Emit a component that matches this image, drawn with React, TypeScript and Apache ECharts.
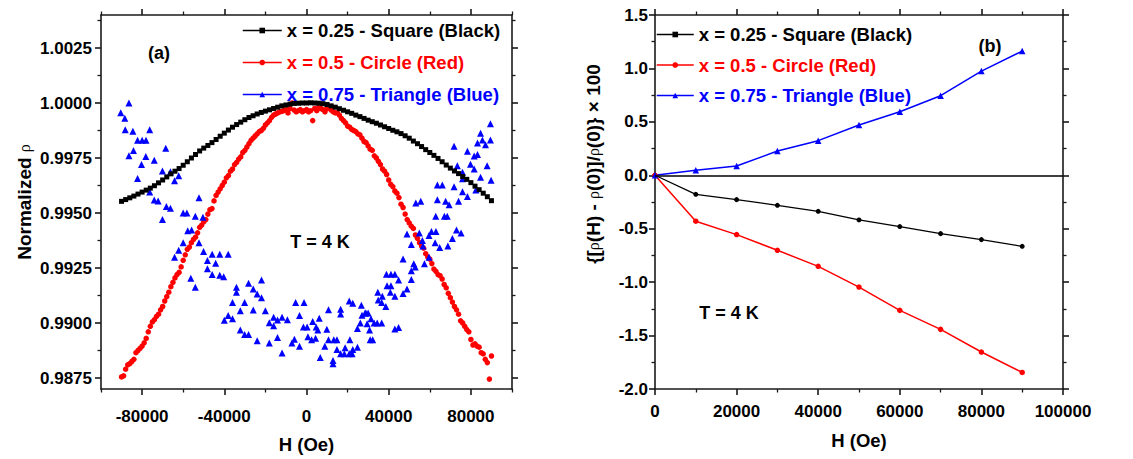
import React, { useEffect, useRef } from "react";
import * as echarts from "echarts";

const FONT = "'Liberation Sans', Arial, Helvetica, sans-serif";
const BLACK = "#000000";
const RED = "#ff0000";
const BLUE = "#0000ff";

const seriesNames = [
  "x = 0.25 - Square (Black)",
  "x = 0.5 - Circle (Red)",
  "x = 0.75 - Triangle (Blue)",
];

// ---------- Panel (a) ----------
const xTicksA = [-80000, -40000, 0, 40000, 80000];
const xMinorTicksA = [-100000, -60000, -20000, 20000, 60000, 100000];
const yTicksA = [0.9875, 0.99, 0.9925, 0.995, 0.9975, 1.0, 1.0025];
const yMinorTicksA = [0.98875, 0.99125, 0.99375, 0.99625, 0.99875, 1.00125, 1.00375];

const blackAField = [
  -90000, -88000, -86000, -84000, -82000, -80000, -78000, -76000, -74000, -72000,
  -70000, -68000, -66000, -64000, -62000, -60000, -58000, -56000, -54000, -52000,
  -50000, -48000, -46000, -44000, -42000, -40000, -38000, -36000, -34000, -32000,
  -30000, -28000, -26000, -24000, -22000, -20000, -18000, -16000, -14000, -12000,
  -10000, -8000, -6000, -4000, -2000, 0, 2000, 4000, 6000, 8000,
  10000, 12000, 14000, 16000, 18000, 20000, 22000, 24000, 26000, 28000,
  30000, 32000, 34000, 36000, 38000, 40000, 42000, 44000, 46000, 48000,
  50000, 52000, 54000, 56000, 58000, 60000, 62000, 64000, 66000, 68000,
  70000, 72000, 74000, 76000, 78000, 80000, 82000, 84000, 86000, 88000, 90000,
];
const blackAValues = [
  0.99553, 0.99561, 0.99569, 0.99577, 0.99586, 0.99595, 0.99604, 0.99613, 0.99624, 0.99637,
  0.9965, 0.99664, 0.99678, 0.9969, 0.99702, 0.99717, 0.99733, 0.9975, 0.99766, 0.99782,
  0.99795, 0.99807, 0.9982, 0.99834, 0.99849, 0.99863, 0.99877, 0.9989, 0.99902, 0.99913,
  0.99924, 0.99934, 0.99942, 0.9995, 0.99957, 0.99963, 0.99969, 0.99975, 0.99981, 0.99987,
  0.99991, 0.99995, 0.99998, 0.99999, 1.0, 1.0, 1.00001, 1.0, 0.99999, 0.99997,
  0.99993, 0.99987, 0.99981, 0.99974, 0.99967, 0.9996, 0.99953, 0.99945, 0.99938, 0.9993,
  0.99922, 0.99915, 0.99908, 0.999, 0.99892, 0.99884, 0.99876, 0.99869, 0.99861, 0.99851,
  0.9984, 0.99827, 0.99815, 0.99802, 0.99788, 0.99775, 0.99762, 0.99748, 0.99733, 0.99718,
  0.99704, 0.99691, 0.99679, 0.99666, 0.99653, 0.99638, 0.99622, 0.99606, 0.9959, 0.99574, 0.99556,
];

// red: two field sweeps
const redSweep1Field = blackAField;
const redSweep1Values = [
  0.98755, 0.9879, 0.98815, 0.98835, 0.98875, 0.98895, 0.9893, 0.98985, 0.99015, 0.9904,
  0.99075, 0.9912, 0.99165, 0.99205, 0.9923, 0.99285, 0.99335, 0.99365, 0.9939, 0.99435,
  0.9946, 0.99495, 0.9952, 0.9958, 0.9961, 0.9964, 0.9967, 0.997, 0.9973, 0.99755,
  0.99785, 0.99815, 0.9984, 0.9986, 0.99875, 0.999, 0.9992, 0.99945, 0.99955, 0.99962,
  0.9997, 0.99975, 0.99968, 0.99965, 0.9996, 0.9997, 0.99965, 0.99975, 0.9998, 0.9997,
  0.99975, 0.99968, 0.99955, 0.99945, 0.9992, 0.99895, 0.9988, 0.9987, 0.99855, 0.99825,
  0.99805, 0.99785, 0.9975, 0.9972, 0.9969, 0.9965, 0.9962, 0.9959, 0.9954, 0.99495,
  0.99455, 0.9943, 0.99385, 0.9935, 0.99315, 0.9929, 0.99245, 0.9922, 0.992, 0.9916,
  0.99115, 0.99075, 0.9904, 0.99, 0.9897, 0.98925, 0.98905, 0.9889, 0.9886, 0.9882, 0.9885,
];
const redSweep2Field = [
  -89000, -87000, -85000, -83000, -81000, -79000, -77000, -75000, -73000, -71000,
  -69000, -67000, -65000, -63000, -61000, -59000, -57000, -55000, -53000, -51000,
  -49000, -47000, -45000, -43000, -41000, -39000, -37000, -35000, -33000, -31000,
  -29000, -27000, -25000, -23000, -21000, -19000, -17000, -15000, -13000, -11000,
  -9000, -7000, -5000, -3000, -1000, 1000, 3000, 5000, 7000, 9000,
  11000, 13000, 15000, 17000, 19000, 21000, 23000, 25000, 27000, 29000,
  31000, 33000, 35000, 37000, 39000, 41000, 43000, 45000, 47000, 49000,
  51000, 53000, 55000, 57000, 59000, 61000, 63000, 65000, 67000, 69000,
  71000, 73000, 75000, 77000, 79000, 81000, 83000, 85000, 87000, 89000,
];
const redSweep2Values = [
  0.9876, 0.9881, 0.98825, 0.98865, 0.98885, 0.9891, 0.9896, 0.99005, 0.9903, 0.9906,
  0.991, 0.9914, 0.99185, 0.9922, 0.99255, 0.9931, 0.99345, 0.9938, 0.9941, 0.99445,
  0.9947, 0.99515, 0.99555, 0.99595, 0.99625, 0.9966, 0.9969, 0.9972, 0.99745, 0.99775,
  0.998, 0.9983, 0.9985, 0.9987, 0.99885, 0.9991, 0.99935, 0.9995, 0.9996, 0.99965,
  0.99955, 1.0, 0.9996, 0.9997, 0.99965, 0.9996, 0.9992, 0.99965, 0.99975, 0.9996,
  0.99978, 0.9996, 0.99955, 0.9993, 0.9991, 0.9989, 0.99875, 0.9986, 0.9984, 0.9982,
  0.9979, 0.9976, 0.99735, 0.997, 0.99675, 0.9963, 0.996, 0.9957, 0.99525, 0.9947,
  0.9944, 0.994, 0.99365, 0.9934, 0.993, 0.9927, 0.99235, 0.99215, 0.99175, 0.99135,
  0.99095, 0.9906, 0.9901, 0.98985, 0.9896, 0.989, 0.98895, 0.98865, 0.98835, 0.98745,
];

// blue: scattered [H, rho] pairs
const blueAPoints: [number, number][] = [
  [-86400, 1.0], [-90400, 0.99956], [-88400, 0.99931], [-88200, 0.99878], [-84500, 0.99872],
  [-76300, 0.99878], [-82200, 0.99831], [-80000, 0.99831], [-78100, 0.99831], [-86400, 0.9976],
  [-84200, 0.99784], [-78200, 0.99757], [-68500, 0.99794], [-80300, 0.99721], [-74100, 0.9974],
  [-82200, 0.99657], [-70100, 0.99691], [-66200, 0.99687], [-62200, 0.99669], [-64200, 0.99647],
  [-76300, 0.99596], [-74100, 0.99559], [-72200, 0.99555], [-68200, 0.99529], [-66200, 0.99522],
  [-60000, 0.995], [-58200, 0.995], [-54100, 0.99485], [-52300, 0.99569], [-50400, 0.99481],
  [-70100, 0.99471],
  [-57800, 0.99419], [-55900, 0.99423], [-60000, 0.99365], [-62200, 0.99331], [-64200, 0.99299],
  [-52300, 0.99365], [-50100, 0.99325], [-48200, 0.99284], [-45900, 0.99313], [-42200, 0.99313],
  [-38100, 0.99313], [-44200, 0.99272], [-48200, 0.99247], [-45900, 0.9922], [-42200, 0.99217],
  [-40300, 0.9921], [-56300, 0.99203], [-54100, 0.99163], [-34100, 0.99163], [-34100, 0.9914],
  [-28200, 0.99181], [-25900, 0.99154], [-21900, 0.99195], [-24000, 0.99132], [-21900, 0.99115],
  [-36000, 0.99093], [-30100, 0.99093], [-32200, 0.99056], [-25900, 0.99059], [-20000, 0.99056],
  [-40000, 0.99012], [-38100, 0.99034], [-36000, 0.99019], [-18100, 0.99001], [-16000, 0.99026],
  [-14100, 0.99014], [-11900, 0.99026], [-16000, 0.98987], [-32200, 0.98968], [-30100, 0.98948],
  [-28200, 0.98948], [-24000, 0.98919], [-18100, 0.98909], [-14100, 0.98934], [-11900, 0.98864],
  [-9300, 0.99015], [-7100, 0.98909], [-5900, 0.98926], [-3400, 0.98894], [-3400, 0.99034],
  [-5300, 0.99093], [-1200, 0.99093], [-1500, 0.98982], [300, 0.98982], [700, 0.98938],
  [2500, 0.98924], [3000, 0.99007], [4400, 0.98931], [4700, 0.98982], [5500, 0.98968],
  [6200, 0.99022], [6700, 0.98843], [8900, 0.98894], [9900, 0.98972], [10700, 0.9906],
  [10700, 0.98924], [12900, 0.98829], [12900, 0.98815], [13300, 0.98924], [14800, 0.98924],
  [14800, 0.9888], [16600, 0.9886], [16600, 0.99063], [16600, 0.99041], [18400, 0.9886],
  [18800, 0.98887], [20800, 0.9886], [20800, 0.991], [21100, 0.98924], [22200, 0.9886],
  [22500, 0.9888], [22500, 0.9909], [24800, 0.98975], [24800, 0.9889], [26200, 0.99],
  [26700, 0.99081], [27000, 0.99035], [28500, 0.99046], [28900, 0.99046], [29500, 0.98997],
  [30000, 0.99046], [30700, 0.98968], [31000, 0.98924], [31400, 0.99019], [32200, 0.98924],
  [32900, 0.99], [34400, 0.99], [34700, 0.9914], [34900, 0.99104], [36600, 0.99],
  [36600, 0.99093], [36900, 0.99122], [38600, 0.99075], [38900, 0.99222], [39200, 0.99169],
  [40800, 0.9914], [41100, 0.99222], [41100, 0.99169], [43000, 0.99222], [43000, 0.99122],
  [43000, 0.98973], [44800, 0.99195], [44800, 0.9898], [47000, 0.99291], [47000, 0.99134],
  [48900, 0.99404], [48900, 0.99154], [51000, 0.99357], [51000, 0.99237], [51000, 0.99198],
  [52200, 0.99269], [52900, 0.99254], [54900, 0.99409], [56400, 0.99375], [56700, 0.9935],
  [57400, 0.99269], [59600, 0.99398], [59600, 0.99299], [60800, 0.99416], [62600, 0.99365],
  [63000, 0.99416], [62900, 0.99485], [64800, 0.99343], [67100, 0.99485], [68500, 0.99485],
  [68800, 0.9935], [71000, 0.99384], [73000, 0.99423], [75200, 0.99409],
  [53200, 0.99546], [55600, 0.99553], [63700, 0.9956], [63700, 0.99627], [66100, 0.99627],
  [67700, 0.99553], [69400, 0.99538], [71800, 0.99803], [71800, 0.99619], [73400, 0.99715],
  [74000, 0.99553], [75900, 0.99656], [75900, 0.99685], [78300, 0.99781], [78300, 0.99575],
  [79800, 0.99722], [81600, 0.99759], [81600, 0.997], [83200, 0.99818], [83200, 0.99766],
  [84700, 0.99862], [85600, 0.99832], [87100, 0.9981], [87900, 0.99715], [89500, 0.99906],
  [89500, 0.99832], [89800, 0.99649], [84700, 0.99663], [82400, 0.99605], [75900, 0.99597],
];

// ---------- Panel (b) ----------
const fieldB = [0, 10000, 20000, 30000, 40000, 50000, 60000, 70000, 80000, 90000];
const blackB = [0, -0.178, -0.228, -0.281, -0.337, -0.418, -0.48, -0.546, -0.602, -0.665];
const redB = [0, -0.43, -0.555, -0.702, -0.852, -1.046, -1.264, -1.442, -1.654, -1.845];
const blueB = [0, 0.047, 0.087, 0.227, 0.324, 0.47, 0.595, 0.745, 0.975, 1.162];

const zip = (xs: number[], ys: number[]) => xs.map((x, i) => [x, ys[i]]);

const axisLineStyle = { color: "#1a1a1a", width: 1.6 };
const labelStyle = { fontFamily: FONT, fontWeight: "bold" as const, fontSize: 17, color: "#000" };
const nameStyle = {
  fontFamily: FONT,
  fontWeight: "bold" as const,
  fontSize: 18.5,
  color: "#000",
  rich: { r: { fontFamily: "'Liberation Serif', serif", fontWeight: "normal" as const, fontSize: 16, color: "#000" } },
};

function App() {
  const ref = useRef<HTMLDivElement>(null);
  useEffect(() => {
    if (!ref.current) return;
    const chart = echarts.init(ref.current, undefined, { renderer: "svg" });

    const majorTick = { show: true, inside: false, length: 6, lineStyle: { color: "#1a1a1a", width: 1.6 } };
    const minorTickStyle = { show: true, length: 3.5, lineStyle: { color: "#1a1a1a", width: 1.3 } };

    const xA = (position: "bottom" | "top", minor: boolean, withLabel: boolean) => ({
      type: "value",
      gridIndex: 0,
      position,
      min: -100000,
      max: 100000,
      axisLine: { show: !minor, onZero: false, lineStyle: axisLineStyle },
      axisTick: minor
        ? { ...minorTickStyle, customValues: xMinorTicksA }
        : { ...majorTick, customValues: xTicksA },
      axisLabel: withLabel
        ? { ...labelStyle, customValues: xTicksA, margin: 19, formatter: (v: number) => String(v) }
        : { show: false },
      splitLine: { show: false },
      ...(withLabel
        ? { name: "H (Oe)", nameLocation: "middle", nameGap: 46, nameTextStyle: nameStyle }
        : {}),
    });
    const yA = (position: "left" | "right", minor: boolean, withLabel: boolean) => ({
      type: "value",
      gridIndex: 0,
      position,
      min: 0.987,
      max: 1.004,
      axisLine: { show: !minor, onZero: false, lineStyle: axisLineStyle },
      axisTick: minor
        ? { ...minorTickStyle, customValues: yMinorTicksA }
        : { ...majorTick, customValues: yTicksA },
      axisLabel: withLabel
        ? { ...labelStyle, customValues: yTicksA, margin: 9, formatter: (v: number) => v.toFixed(4) }
        : { show: false },
      splitLine: { show: false },
      ...(withLabel
        ? { name: "Normalized {r|ρ}", nameLocation: "middle", nameGap: 67, nameTextStyle: { ...nameStyle, fontSize: 19 } }
        : {}),
    });

    const xB = (position: "bottom" | "top", withLabel: boolean) => ({
      type: "value",
      gridIndex: 1,
      position,
      min: 0,
      max: 100000,
      interval: 20000,
      axisLine: { show: true, onZero: false, lineStyle: axisLineStyle },
      axisTick: majorTick,
      minorTick: { ...minorTickStyle, splitNumber: 2 },
      axisLabel: withLabel
        ? { ...labelStyle, margin: 14, formatter: (v: number) => String(v) }
        : { show: false },
      splitLine: { show: false },
      minorSplitLine: { show: false },
      ...(withLabel
        ? { name: "H (Oe)", nameLocation: "middle", nameGap: 42, nameTextStyle: nameStyle }
        : {}),
    });
    const yB = (position: "left" | "right", withLabel: boolean) => ({
      type: "value",
      gridIndex: 1,
      position,
      min: -2,
      max: 1.5,
      interval: 0.5,
      axisLine: { show: true, onZero: false, lineStyle: axisLineStyle },
      axisTick: majorTick,
      minorTick: { ...minorTickStyle, splitNumber: 2 },
      axisLabel: withLabel
        ? { ...labelStyle, margin: 7, formatter: (v: number) => v.toFixed(1) }
        : { show: false },
      splitLine: { show: false },
      minorSplitLine: { show: false },
      ...(withLabel
        ? {
            name: "{[{r|ρ}(H) - {r|ρ}(0)]/{r|ρ}(0)} × 100",
            nameLocation: "middle",
            nameGap: 52,
            nameTextStyle: { ...nameStyle, fontSize: 19, padding: [0, 0, 0, 76] },
          }
        : {}),
    });

    const textStyleG = (text: string, x: number, y: number) => ({
      type: "text",
      x,
      y,
      silent: true,
      style: {
        text,
        fontFamily: FONT,
        fontWeight: "bold",
        fontSize: 18,
        fill: "#000",
        align: "center",
        verticalAlign: "middle",
      },
    });

    const legendBase = {
      orient: "vertical",
      itemWidth: 39,
      itemHeight: 7,
      padding: 0,
      selectedMode: false,
      textStyle: { fontFamily: FONT, fontWeight: "bold", fontSize: 18.5 },
      lineStyle: { width: 1.5, opacity: 1 },
      data: [
        { name: seriesNames[0], textStyle: { color: BLACK } },
        { name: seriesNames[1], textStyle: { color: RED } },
        { name: seriesNames[2], textStyle: { color: BLUE } },
      ],
    };

    const option: any = {
      animation: false,
      backgroundColor: "#ffffff",
      grid: [
        { left: 101, right: 1133 - 512, top: 15, bottom: 459 - 398, containLabel: false },
        { left: 655, right: 1133 - 1063, top: 15, bottom: 459 - 389, containLabel: false },
      ],
      xAxis: [
        xA("bottom", false, true),
        xA("bottom", true, false),
        xA("top", false, false),
        xA("top", true, false),
        xB("bottom", true),
        xB("top", false),
      ],
      yAxis: [
        yA("left", false, true),
        yA("left", true, false),
        yA("right", false, false),
        yA("right", true, false),
        yB("left", true),
        yB("right", false),
      ],
      legend: [
        { ...legendBase, left: 242, top: 21, itemGap: 13 },
        { ...legendBase, left: 656, top: 25, itemGap: 11.5, itemWidth: 37 },
      ],
      graphic: [
        textStyleG("(a)", 159, 53),
        textStyleG("T = 4 K", 320, 242),
        textStyleG("(b)", 990, 46),
        textStyleG("T = 4 K", 729, 313),
      ],
      series: [
        {
          type: "line",
          name: seriesNames[0],
          xAxisIndex: 0,
          yAxisIndex: 0,
          data: zip(blackAField, blackAValues),
          symbol: "rect",
          symbolSize: 5,
          itemStyle: { color: BLACK },
          lineStyle: { width: 0, opacity: 0 },
          silent: true,
          z: 3,
        },
        {
          type: "line",
          name: seriesNames[1],
          xAxisIndex: 0,
          yAxisIndex: 0,
          data: [...zip(redSweep1Field, redSweep1Values), ...zip(redSweep2Field, redSweep2Values)],
          symbol: "circle",
          symbolSize: 5.5,
          itemStyle: { color: RED },
          lineStyle: { width: 0, opacity: 0 },
          silent: true,
          z: 2,
        },
        {
          type: "line",
          name: seriesNames[2],
          xAxisIndex: 0,
          yAxisIndex: 0,
          data: blueAPoints,
          symbol: "triangle",
          symbolSize: 7,
          itemStyle: { color: BLUE },
          lineStyle: { width: 0, opacity: 0 },
          silent: true,
          z: 2,
        },
        {
          type: "line",
          name: seriesNames[0],
          xAxisIndex: 4,
          yAxisIndex: 4,
          data: zip(fieldB, blackB),
          symbol: "circle",
          symbolSize: 5,
          itemStyle: { color: BLACK },
          lineStyle: { width: 1.3, color: BLACK },
          silent: true,
          markLine: {
            silent: true,
            symbol: ["none", "none"],
            label: { show: false },
            lineStyle: { color: "#000", width: 1.6, type: "solid" },
            data: [{ yAxis: 0 }],
          },
        },
        {
          type: "line",
          name: seriesNames[1],
          xAxisIndex: 4,
          yAxisIndex: 4,
          data: zip(fieldB, redB),
          symbol: "circle",
          symbolSize: 5.5,
          itemStyle: { color: RED },
          lineStyle: { width: 1.5, color: RED },
          silent: true,
        },
        {
          type: "line",
          name: seriesNames[2],
          xAxisIndex: 4,
          yAxisIndex: 4,
          data: zip(fieldB, blueB),
          symbol: "triangle",
          symbolSize: 6.5,
          itemStyle: { color: BLUE },
          lineStyle: { width: 1.5, color: BLUE },
          silent: true,
        },
      ],
    };

    chart.setOption(option);
    return () => chart.dispose();
  }, []);

  return (
    <div
      ref={ref}
      style={{ position: "absolute", left: 0, top: 0, width: 1133, height: 459, background: "#fff" }}
    />
  );
}

export default App;
